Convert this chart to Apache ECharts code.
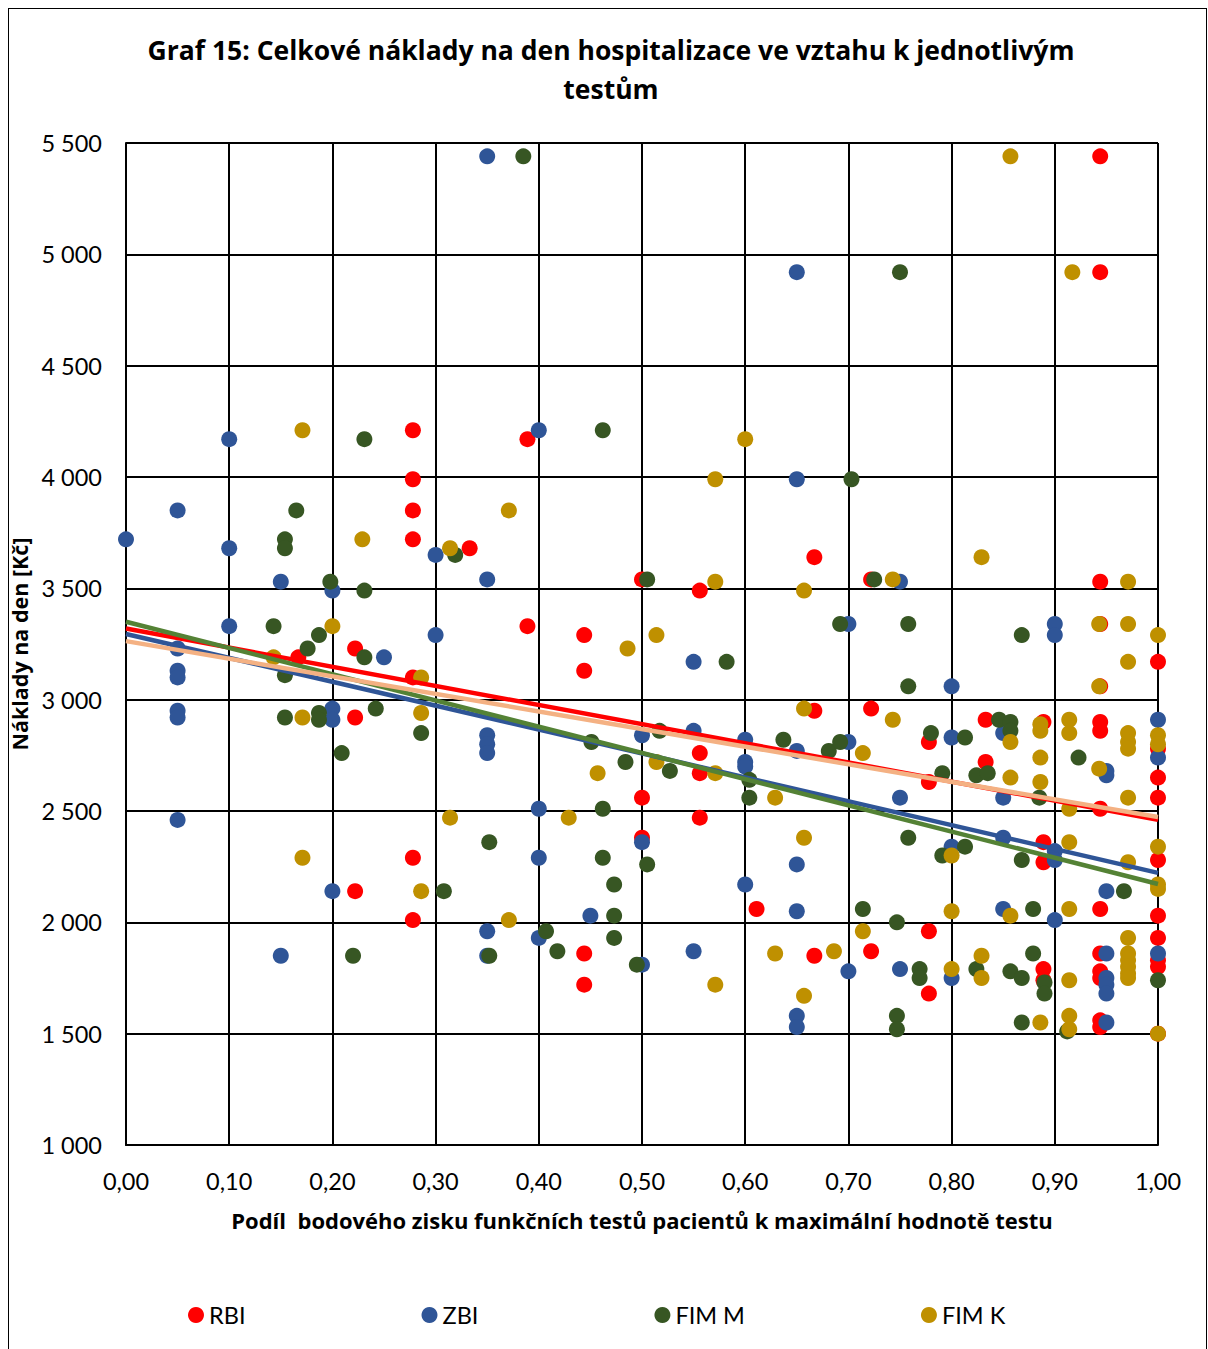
<!DOCTYPE html>
<html><head><meta charset="utf-8">
<script src="https://cdn.jsdelivr.net/npm/echarts@6/dist/echarts.min.js"></script>
<style>
html,body{margin:0;padding:0;background:#fff;}
#frame{position:absolute;left:8px;top:8px;width:1199px;height:1345px;border:1.5px solid #000;box-sizing:border-box;}
#c{position:absolute;left:0;top:0;width:1208px;height:1349px;}
</style></head>
<body><div id="frame"></div><div id="c"></div>
<script>
const titleText = "Graf 15: Celkové náklady na den hospitalizace ve vztahu k jednotlivým\ntestům";
const xName = "Podíl  bodového zisku funkčních testů pacientů k maximální hodnotě testu";
const yName = "Náklady na den [Kč]";
const seriesNames = ["RBI", "ZBI", "FIM M", "FIM K"];

const rbi = [[0.944,5440],[0.944,4920],[0.278,4210],[0.389,4170],[0.278,3990],[0.278,3850],[0.278,3720],[0.333,3680],[0.667,3640],[0.722,3540],[0.5,3540],[0.556,3490],[0.944,3530],[0.944,3340],[0.389,3330],[0.444,3290],[0.222,3230],[0.167,3190],[0.444,3130],[1.0,3170],[0.278,3100],[0.944,3060],[0.667,2950],[0.722,2960],[0.222,2920],[0.833,2910],[0.889,2900],[0.944,2900],[0.944,2860],[0.778,2810],[1.0,2780],[0.556,2760],[0.833,2720],[0.556,2670],[1.0,2650],[0.778,2630],[0.5,2560],[1.0,2560],[0.944,2510],[0.556,2470],[0.5,2380],[0.889,2360],[0.889,2270],[0.278,2290],[1.0,2280],[0.222,2140],[0.278,2010],[0.611,2060],[0.944,2060],[1.0,2030],[0.722,1870],[0.444,1860],[0.667,1850],[0.778,1960],[1.0,1930],[0.944,1860],[0.889,1790],[0.944,1780],[1.0,1800],[1.0,1830],[0.944,1750],[0.889,1740],[0.444,1720],[0.778,1680],[0.944,1560],[0.944,1530],[1.0,1500]];

const zbi = [[0.35,5440],[0.65,4920],[0.1,4170],[0.4,4210],[0.65,3990],[0.05,3850],[0,3720],[0.1,3680],[0.3,3650],[0.15,3530],[0.35,3540],[0.2,3490],[0.75,3530],[0.1,3330],[0.7,3340],[0.9,3340],[0.9,3290],[0.3,3290],[0.25,3190],[0.55,3170],[0.05,3230],[0.05,3130],[0.05,3100],[0.05,2950],[0.05,2920],[0.8,3060],[0.2,2960],[0.2,2910],[1.0,2910],[0.35,2840],[0.35,2800],[0.35,2760],[0.55,2860],[0.5,2840],[0.6,2820],[0.8,2830],[0.85,2850],[0.65,2770],[0.7,2810],[0.6,2720],[0.6,2700],[1.0,2740],[0.95,2680],[0.95,2660],[0.75,2560],[0.85,2560],[0.05,2460],[0.4,2510],[0.85,2380],[0.5,2360],[0.9,2320],[0.9,2280],[0.4,2290],[0.65,2260],[0.8,2340],[0.6,2170],[0.2,2140],[0.95,2140],[0.85,2060],[0.65,2050],[0.45,2030],[0.9,2010],[0.35,1960],[0.4,1930],[0.55,1870],[0.15,1850],[0.35,1850],[1.0,1860],[0.5,1810],[0.95,1860],[0.7,1780],[0.75,1790],[0.8,1750],[0.95,1750],[0.95,1720],[0.95,1680],[0.65,1580],[0.65,1530],[0.95,1550]];

const fimM = [[0.385,5440],[0.75,4920],[0.231,4170],[0.462,4210],[0.703,3990],[0.165,3850],[0.154,3720],[0.154,3680],[0.319,3650],[0.198,3530],[0.505,3540],[0.231,3490],[0.143,3330],[0.187,3290],[0.176,3230],[0.231,3190],[0.154,3110],[0.154,2920],[0.187,2940],[0.187,2910],[0.242,2960],[0.286,2850],[0.209,2760],[0.725,3540],[0.758,3340],[0.692,3340],[0.868,3290],[0.582,3170],[0.758,3060],[0.451,2810],[0.517,2860],[0.484,2720],[0.527,2680],[0.604,2640],[0.604,2560],[0.637,2820],[0.681,2770],[0.692,2810],[0.78,2850],[0.813,2830],[0.846,2910],[0.857,2900],[0.857,2860],[0.791,2670],[0.824,2660],[0.835,2670],[0.885,2560],[0.923,2740],[0.462,2510],[0.352,2360],[0.462,2290],[0.505,2260],[0.758,2380],[0.791,2300],[0.813,2340],[0.868,2280],[0.473,2170],[0.308,2140],[0.747,2000],[0.714,2060],[0.879,2060],[0.967,2140],[0.473,2030],[0.407,1960],[0.473,1930],[0.418,1870],[0.22,1850],[0.352,1850],[0.495,1810],[0.769,1790],[0.769,1750],[0.824,1790],[0.857,1780],[0.868,1750],[0.879,1860],[0.89,1730],[0.89,1680],[0.747,1580],[0.747,1520],[0.868,1550],[0.912,1510],[1.0,1740]];

const fimK = [[0.857,5440],[0.917,4920],[0.171,4210],[0.6,4170],[0.571,3990],[0.371,3850],[0.229,3720],[0.314,3680],[0.829,3640],[0.571,3530],[0.743,3540],[0.657,3490],[0.971,3530],[0.2,3330],[0.514,3290],[0.486,3230],[0.943,3340],[0.971,3340],[1.0,3290],[0.971,3170],[0.943,3060],[0.143,3190],[0.286,3100],[0.286,2940],[0.171,2920],[0.657,2960],[0.743,2910],[0.914,2910],[0.886,2890],[0.886,2860],[0.914,2850],[0.971,2850],[0.971,2810],[0.971,2780],[1.0,2840],[1.0,2800],[0.857,2810],[0.714,2760],[0.514,2720],[0.571,2670],[0.457,2670],[0.886,2740],[0.943,2690],[0.857,2650],[0.886,2630],[0.629,2560],[0.971,2560],[0.914,2510],[0.314,2470],[0.429,2470],[0.657,2380],[0.914,2360],[1.0,2340],[0.171,2290],[0.8,2300],[0.971,2270],[0.286,2140],[1.0,2150],[1.0,2170],[0.371,2010],[0.8,2050],[0.857,2030],[0.914,2060],[0.714,1960],[0.971,1930],[0.686,1870],[0.629,1860],[0.829,1850],[0.971,1860],[0.971,1830],[0.971,1800],[0.971,1770],[0.971,1750],[0.8,1790],[0.829,1750],[0.914,1740],[0.571,1720],[0.657,1670],[0.886,1550],[0.914,1580],[0.914,1520],[1.0,1500]];

// trend line end values (at x = 0 and x = 1)
const trendX = [0, 1];
const trendRBI = [3320, 2460];
const trendZBI = [3295, 2222];
const trendFimM = [3350, 2172];
const trendFimK = [3263, 2473];

const FONT = "Lato, 'Open Sans', sans-serif";
const BOLD_FONT = "'Open Sans', Lato, sans-serif";
const markerColors = ['#FF0000', '#2F5597', '#375623', '#BF9000'];
const trendColors = ['#FF0000', '#2F5597', '#548235', '#F4B183'];

function trend(name, vals, color) {
  return {
    name: name, type: 'line', silent: true, symbol: 'none', z: 5,
    data: trendX.map((x, i) => [x, vals[i]]),
    lineStyle: { color: color, width: 4.5 }
  };
}
function scatter(name, data, color, z) {
  return {
    name: name, type: 'scatter', data: data, symbol: 'circle', symbolSize: 16, z: z,
    itemStyle: { color: color, opacity: 1 }
  };
}

const chart = echarts.init(document.getElementById('c'), null, { renderer: 'svg' });
chart.setOption({
  animation: false,
  backgroundColor: 'transparent',
  title: {
    text: titleText, left: 611, top: 30, padding: 0, textAlign: 'center',
    textStyle: { fontFamily: BOLD_FONT, fontWeight: 'bold', fontSize: 26.5, color: '#000', lineHeight: 39 }
  },
  legend: {
    data: seriesNames.map((n, i) => ({ name: n, icon: 'circle', itemStyle: { color: markerColors[i] } })),
    left: 183, top: 1298, itemGap: 176, itemWidth: 16, itemHeight: 16,
    textStyle: { fontFamily: FONT, fontSize: 23.5, color: '#000' }
  },
  grid: { left: 126, right: 50, top: 143, bottom: 204, containLabel: false },
  xAxis: {
    type: 'value', min: 0, max: 1, interval: 0.1,
    name: xName, nameLocation: 'middle', nameGap: 64,
    nameTextStyle: { fontFamily: BOLD_FONT, fontWeight: 'bold', fontSize: 22, color: '#000' },
    axisLine: { show: true, lineStyle: { color: '#000', width: 2 } },
    axisTick: { show: false },
    splitLine: { show: true, lineStyle: { color: '#000', width: 2 } },
    axisLabel: { margin: 24, fontFamily: FONT, fontSize: 23.5, color: '#000',
      formatter: v => v.toFixed(2).replace('.', ',') }
  },
  yAxis: {
    type: 'value', min: 1000, max: 5500, interval: 500,
    name: yName, nameLocation: 'middle', nameGap: 86, nameRotate: 90,
    nameTextStyle: { fontFamily: BOLD_FONT, fontWeight: 'bold', fontSize: 21.5, color: '#000' },
    axisLine: { show: true, lineStyle: { color: '#000', width: 2 } },
    axisTick: { show: false },
    splitLine: { show: true, lineStyle: { color: '#000', width: 2 } },
    axisLabel: { margin: 24, fontFamily: FONT, fontSize: 23.5, color: '#000',
      formatter: v => { const s = String(v); return s.length > 3 ? s.slice(0, s.length - 3) + ' ' + s.slice(-3) : s; } }
  },
  series: [
    scatter('RBI', rbi, markerColors[0], 2),
    scatter('ZBI', zbi, markerColors[1], 2),
    scatter('FIM M', fimM, markerColors[2], 2),
    scatter('FIM K', fimK, markerColors[3], 2),
    trend('Lineární (RBI)', trendRBI, trendColors[0]),
    trend('Lineární (ZBI)', trendZBI, trendColors[1]),
    trend('Lineární (FIM M)', trendFimM, trendColors[2]),
    trend('Lineární (FIM K)', trendFimK, trendColors[3])
  ]
});
</script></body></html>
